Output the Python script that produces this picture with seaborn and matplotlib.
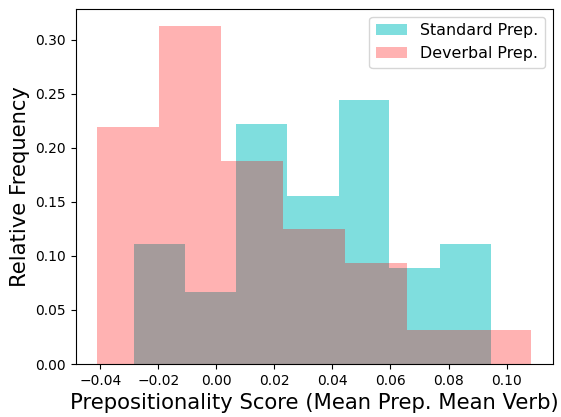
import numpy as np
import pandas as pd
import seaborn as sns
import matplotlib
matplotlib.use("Agg")
import matplotlib.pyplot as plt

# bin edges
std_edges = [-0.0283, -0.0107, 0.0069, 0.0245, 0.0421, 0.0596, 0.0772, 0.0948]
dev_edges = [-0.0410, -0.0197, 0.0017, 0.0230, 0.0444, 0.0657, 0.0871, 0.1084]

# relative frequency per bin
std_freq = [0.111, 0.0667, 0.222, 0.1556, 0.2444, 0.0889, 0.111]
dev_freq = [0.21875, 0.3125, 0.1875, 0.125, 0.09375, 0.03125, 0.03125]

std_mid = [(a + b) / 2 for a, b in zip(std_edges[:-1], std_edges[1:])]
dev_mid = [(a + b) / 2 for a, b in zip(dev_edges[:-1], dev_edges[1:])]

fig, ax = plt.subplots(figsize=(5.61, 4.17), dpi=100)

sns.histplot(x=std_mid, weights=std_freq, bins=std_edges, color="c", alpha=0.5,
             linewidth=0, ax=ax, label="Standard Prep.")
sns.histplot(x=dev_mid, weights=dev_freq, bins=dev_edges, color="r", alpha=0.3,
             linewidth=0, ax=ax, label="Deverbal Prep.")

ax.set_xlabel("Prepositionality Score (Mean Prep. Mean Verb)", fontsize=15.2)
ax.set_ylabel("Relative Frequency", fontsize=15.2)
ax.legend(fontsize=11.4)

plt.subplots_adjust(left=0.135, right=0.985, top=0.978, bottom=0.127)
plt.savefig("out.png", dpi=100)
